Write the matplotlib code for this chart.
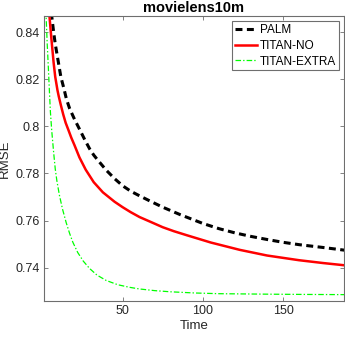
import matplotlib
matplotlib.use("Agg")
import matplotlib.pyplot as plt

plt.rcParams['font.family'] = ['Liberation Sans', 'DejaVu Sans']
plt.rcParams['lines.scale_dashes'] = False

title = "movielens10m"
xlabel = "Time"
ylabel = "RMSE"
series_names = ["PALM", "TITAN-NO", "TITAN-EXTRA"]

palm_t = [5, 5.8, 7, 8, 10, 11.5, 13.5, 15, 17, 20, 23.5, 26.5, 29.4, 32, 34.6, 39.8, 45, 50, 55, 60.6,
          68, 75, 86, 100, 110, 120, 130, 140, 150, 160, 175, 189]
palm_v = [0.853, 0.8468, 0.840, 0.835, 0.827, 0.821, 0.8158, 0.8115, 0.8075, 0.803, 0.7983, 0.7942,
          0.7905, 0.7878, 0.7856, 0.7814, 0.7778, 0.7748, 0.7725, 0.7705, 0.768, 0.7657, 0.7625,
          0.7588, 0.7566, 0.7548, 0.7533, 0.752, 0.7508, 0.7498, 0.7486, 0.7474]

titan_no_t = [3.6, 4.4, 5.5, 7, 8, 9.4, 10.2, 11.5, 13, 14.5, 16.3, 18, 20, 23.1, 27, 32, 37.7, 45, 50,
              55, 60.6, 68, 75, 82, 90, 105, 123, 140, 150, 160, 175, 189]
titan_no_v = [0.855, 0.8468, 0.838, 0.827, 0.821, 0.8153, 0.8127, 0.809, 0.805, 0.8015, 0.7983, 0.7952,
              0.792, 0.7868, 0.7816, 0.7763, 0.772, 0.768, 0.7657, 0.7636, 0.7615, 0.7593, 0.7572,
              0.7555, 0.7538, 0.7507, 0.7476, 0.7452, 0.7442, 0.7432, 0.742, 0.741]

titan_ex_t = [1.6, 2.3, 3, 3.6, 4.4, 5, 5.8, 7, 8, 9, 10.6, 12.5, 14.8, 17, 19, 22, 25.5, 29.4, 34,
              39.8, 47, 54.4, 60.6, 70, 80, 95, 110, 125, 140, 160, 189]
titan_ex_v = [0.858, 0.8468, 0.835, 0.8265, 0.8145, 0.806, 0.7983, 0.789, 0.782, 0.777, 0.7708,
              0.765, 0.7592, 0.7545, 0.7508, 0.7465, 0.7428, 0.7397, 0.7369, 0.7346, 0.7328, 0.7317,
              0.731, 0.7303, 0.7298, 0.7293, 0.7290, 0.7289, 0.7288, 0.7287, 0.7286]

xticks = [50, 100, 150]
yticks = [0.74, 0.76, 0.78, 0.8, 0.82, 0.84]
yticklabels = ["0.74", "0.76", "0.78", "0.8", "0.82", "0.84"]

fig = plt.figure(figsize=(3.45, 3.37), dpi=100)
ax = fig.add_axes([44/345, 1-301/337, 300/345, 285/337])

ax.plot(palm_t, palm_v, color='black', lw=2.2, linestyle=(0, (5, 3.2)), label=series_names[0])
ax.plot(titan_no_t, titan_no_v, color='#ff0000', lw=1.8, linestyle='-', label=series_names[1])
ax.plot(titan_ex_t, titan_ex_v, color='#00ff00', lw=0.9, linestyle=(0, (4, 1.5, 1, 1.5)), label=series_names[2])

ax.set_xlim(1, 188)
ax.set_ylim(0.7259, 0.8468)
ax.set_xticks(xticks)
ax.set_yticks(yticks)
ax.set_yticklabels(yticklabels)

edge = '#6e6e6e'
for s in ax.spines.values():
    s.set_color(edge)
    s.set_linewidth(0.8)
ax.tick_params(direction='in', length=3, width=0.6, colors=edge, labelcolor='#262626',
               labelsize=9, top=True, right=True, pad=3)

ax.set_title(title, fontsize=10.5, fontweight='bold', color='#000000', pad=3)
ax.set_xlabel(xlabel, fontsize=9.5, color='#262626', labelpad=2)
ax.set_ylabel(ylabel, fontsize=9.5, color='#262626', labelpad=3)

leg = ax.legend(loc='upper right', bbox_to_anchor=(339/345, 1-21.5/337), bbox_transform=fig.transFigure,
                borderaxespad=0, fontsize=8.5, frameon=True, fancybox=False, framealpha=1,
                edgecolor=edge, handlelength=1.9, handletextpad=0.2, labelspacing=0.3,
                borderpad=0.25)
leg.get_frame().set_linewidth(0.8)

fig.savefig("out.png", dpi=100)
